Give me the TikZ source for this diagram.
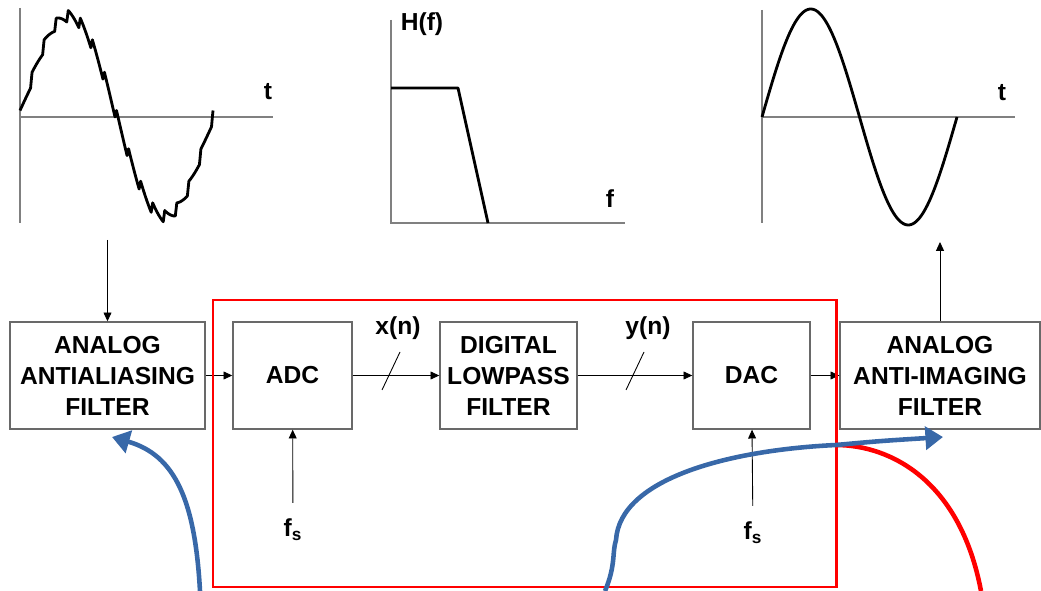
\documentclass[tikz,border=0pt]{standalone}
\usepackage{fontspec}
\setmainfont{Liberation Sans}
\usepackage{tikz}
\usepackage{xcolor}
\usetikzlibrary{arrows.meta}

\definecolor{rojo}{RGB}{255,0,0}
\definecolor{azul}{RGB}{56,104,168}
\definecolor{borde}{RGB}{105,105,105}

\begin{document}
\begin{tikzpicture}[
    x=0.02cm, y=-0.02cm,
    % Definimos los estilos para no repetir codigo
    bloque/.style={draw=borde, line width=0.8pt, minimum height=2.14cm, align=center,
      inner sep=0pt, font=\fontsize{14}{17.6}\selectfont\bfseries},
    etiqueta/.style={inner sep=0pt, font=\fontsize{14}{17}\selectfont\bfseries},
    flecha/.style={line width=0.5pt, -{Triangle[length=5pt,width=4.5pt]}},
    eje/.style={draw=gray, line width=0.9pt},
    senal/.style={line width=1.6pt, line join=round},
    curva/.style={azul, line width=2.6pt, -{Triangle[length=10pt,width=13pt]}}
  ]
  \useasboundingbox (0,0) rectangle (1041,591);

  % 1. Graficas de arriba (entrada, filtro, salida)
  \draw[eje] (20,8) -- (20,223);
  \draw[eje] (20,117) -- (273,117);
  % seno con ruido en escalones
  \draw[senal] plot[domain=0:360, samples=129]
    ({20+0.53611*\x},{117-100*sin(\x)+13*(mod(\x,22.5)/22.5-0.5)});
  \node[etiqueta] (t1) at (268,92) {t};

  \draw[eje] (391,20) -- (391,223) -- (625,223);
  \draw[senal] (391,88) -- (458,88) -- (488,223);
  \node[etiqueta] (hf) at (422,24) {H(f)};
  \node[etiqueta] (f) at (610,199) {f};

  \draw[eje] (762,10) -- (762,223);
  \draw[eje] (762,117) -- (1015,117);
  \draw[senal] plot[domain=0:360, samples=120, smooth]
    ({762+0.54167*\x},{117-108*sin(\x)});
  \node[etiqueta] (t2) at (1002,93) {t};

  % 2. Bloques del sistema
  \node[bloque, minimum width=3.9cm] (aaf) at (107.5,375.5) {ANALOG\\ANTIALIASING\\FILTER};
  \node[bloque, minimum width=2.38cm] (adc) at (292.5,375.5) {ADC};
  \node[bloque, minimum width=2.74cm] (dlp) at (508.5,375.5) {DIGITAL\\LOWPASS\\FILTER};
  \node[bloque, minimum width=2.34cm] (dac) at (751.5,375.5) {DAC};
  \node[bloque, minimum width=4cm] (aif) at (940,375.5) {ANALOG\\ANTI-IMAGING\\FILTER};

  % entradas de reloj
  \node[etiqueta] (fs1) at (293,530) {f\textsubscript{s}};
  \node[etiqueta] (fs2) at (753,533) {f\textsubscript{s}};
  \node[etiqueta] (xn) at (398,328) {x(n)};
  \node[etiqueta] (yn) at (648,328) {y(n)};

  \coordinate (entrada) at (107.5,240);
  \coordinate (salida) at (940,242);

  % 3. Conexiones
  \draw[flecha] (entrada) -- (aaf);
  \draw[flecha] (aaf) -- (adc);
  \draw[flecha] (adc) -- (dlp);
  \draw[flecha] (dlp) -- (dac);
  \draw[flecha] (dac) -- (aif);
  \draw[flecha] (aif) -- (salida);
  \draw[flecha, shorten <=9pt] (fs1) -- (adc);
  \draw[flecha, shorten <=9pt] (fs2) -- (dac);

  % rayas de bus
  \draw[line width=0.5pt] (382,390) -- (400,352);
  \draw[line width=0.5pt] (626,390) -- (644,352);

  % 4. Recuadro rojo y curvas
  \draw[rojo, line width=1.7pt] (213,300) rectangle (836,587);

  \coordinate (r1) at (836,445);
  \coordinate (r2) at (981,591);
  \draw[rojo, line width=2.6pt] (r1) .. controls (890,445) and (960,480) .. (r2);

  \coordinate (a1) at (200,591);
  \coordinate (a2) at (112,437);
  \draw[curva] (a1) .. controls (195,500) and (175,455) .. (a2);

  \coordinate (b1) at (605,591);
  \coordinate (b2) at (616,540);
  \coordinate (b3) at (943,437);
  \draw[curva] (b1) .. controls (616,565) and (612,552) .. (b2)
    .. controls (620,478) and (730,450) .. (r1)
    .. controls (880,441) .. (b3);

\end{tikzpicture}
\end{document}
